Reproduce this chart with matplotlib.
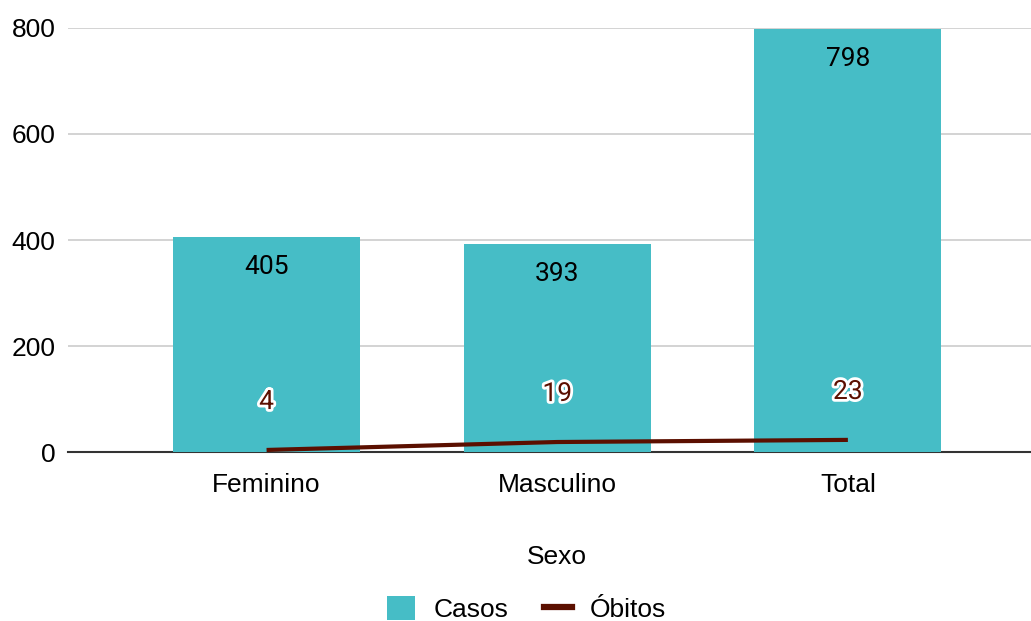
import matplotlib
matplotlib.use("Agg")
import matplotlib.pyplot as plt
import matplotlib.patheffects as pe
from matplotlib.patches import Patch
from matplotlib.lines import Line2D
import numpy as np

categories = ["Feminino", "Masculino", "Total"]
casos = [405, 393, 798]
obitos = [4, 19, 23]
yticks = [0, 200, 400, 600, 800]

BAR_COLOR = "#46bdc6"
LINE_COLOR = "#5b0f00"
AX_FONT = ['Liberation Sans', 'DejaVu Sans']
LBL_FONT = ['Roboto', 'DejaVu Sans']
FS = 19

plt.rcParams['font.family'] = AX_FONT

fig = plt.figure(figsize=(10.31, 6.21), dpi=100)
ax = fig.add_axes([0.066, 0.272, 0.934, 0.683])

x = np.arange(len(categories))
ax.bar(x, casos, width=0.643, color=BAR_COLOR, zorder=2)
ax.plot(x, obitos, color=LINE_COLOR, linewidth=3, zorder=3, solid_capstyle='butt')

for xi, v in zip(x, casos):
    ax.annotate(str(v), (xi, v), xytext=(0, -21.5), textcoords='offset points',
                ha='center', va='center', fontsize=FS, family=LBL_FONT,
                color='#000000', zorder=4)

for xi, v in zip(x, obitos):
    ax.annotate(str(v), (xi, v), xytext=(0, 34.5), textcoords='offset points',
                ha='center', va='center', fontsize=FS, family=LBL_FONT,
                color=LINE_COLOR, zorder=4,
                path_effects=[pe.withStroke(linewidth=4, foreground='white')])

ax.set_xlim(-0.683, 2.63)
ax.set_ylim(0, 800)
ax.set_yticks(yticks)
ax.set_xticks(x)
ax.set_xticklabels(categories)
ax.tick_params(axis='both', length=0, labelsize=FS, colors='#000000')
ax.tick_params(axis='x', pad=15)
ax.tick_params(axis='y', pad=9)
ax.yaxis.grid(True, color='#cccccc', linewidth=1.2, zorder=0)
ax.set_axisbelow(True)
for s in ['left', 'right', 'top']:
    ax.spines[s].set_visible(False)
ax.spines['bottom'].set_color('#333333')
ax.spines['bottom'].set_linewidth(1.5)
ax.spines['bottom'].set_zorder(1)

ax.set_xlabel("Sexo", fontsize=FS)
ax.xaxis.set_label_coords(0.508, -0.22)

handles = [Patch(facecolor=BAR_COLOR, edgecolor='none', label='Casos'),
           Line2D([0], [0], color=LINE_COLOR, linewidth=4.5, label='Óbitos')]
fig.legend(handles=handles, loc='center', bbox_to_anchor=(0.511, 0.019),
           ncol=2, frameon=False, fontsize=FS, handlelength=1.05,
           handleheight=1.0, columnspacing=1.35, handletextpad=0.7)

fig.savefig("out.png", dpi=100, facecolor='white')
